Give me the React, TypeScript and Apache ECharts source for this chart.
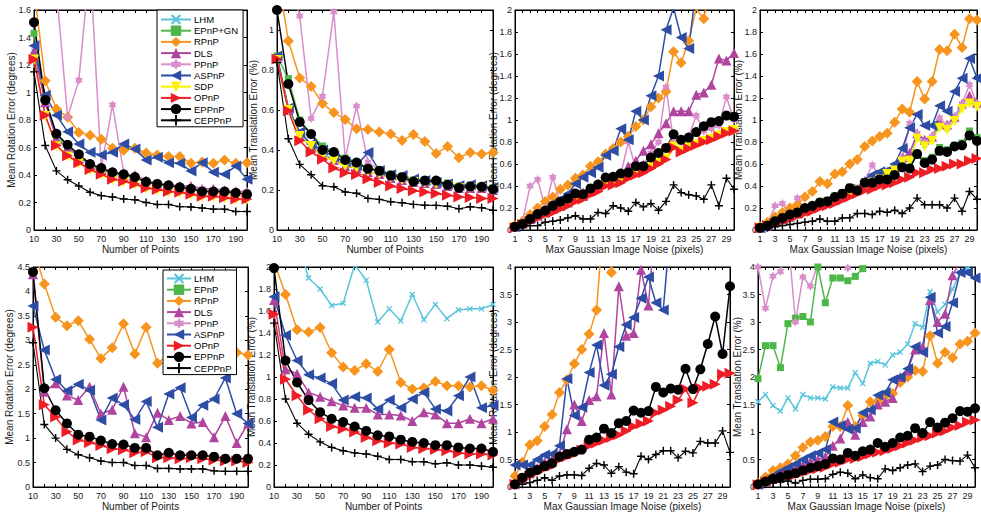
import React, { useEffect, useRef } from "react";
import * as echarts from "echarts";

// ---------- x values ----------
const X_POINTS = [10, 20, 30, 40, 50, 60, 70, 80, 90, 100, 110, 120, 130, 140, 150, 160, 170, 180, 190, 200];
const X_NOISE = [1, 2, 3, 4, 5, 6, 7, 8, 9, 10, 11, 12, 13, 14, 15, 16, 17, 18, 19, 20, 21, 22, 23, 24, 25, 26, 27, 28, 29, 30];

// ---------- Panel 1: rotation error vs number of points (top) ----------
const P1_LHM = [1.30, 0.93, 0.67, 0.60, 0.53, 0.47, 0.43, 0.41, 0.39, 0.38, 0.35, 0.33, 0.32, 0.31, 0.30, 0.28, 0.28, 0.27, 0.27, 0.26];
const P1_EPNPGN = [1.43, 0.95, 0.69, 0.61, 0.54, 0.48, 0.44, 0.41, 0.40, 0.38, 0.35, 0.335, 0.32, 0.31, 0.30, 0.28, 0.28, 0.275, 0.27, 0.26];
const P1_RPNP = [1.75, 1.085, 0.88, 0.82, 0.71, 0.69, 0.66, 0.595, 0.58, 0.595, 0.56, 0.545, 0.535, 0.535, 0.485, 0.495, 0.485, 0.51, 0.485, 0.49];
const P1_DLS = [1.30, 0.93, 0.66, 0.60, 0.54, 0.48, 0.44, 0.42, 0.40, 0.40, 0.36, 0.34, 0.33, 0.32, 0.32, 0.30, 0.30, 0.29, 0.28, 0.28];
const P1_PPNP = [3.0, 2.5, 1.75, 0.82, 1.09, 1.95, 0.45, 0.91, 0.42, 0.39, 0.36, 0.34, 0.33, 0.32, 0.31, 0.30, 0.29, 0.29, 0.28, 0.28];
const P1_ASPNP = [1.34, 0.98, 0.835, 0.715, 0.625, 0.565, 0.545, 0.565, 0.625, 0.59, 0.51, 0.53, 0.49, 0.485, 0.43, 0.49, 0.42, 0.405, 0.465, 0.37];
const P1_SDP = [1.24, 0.83, 0.61, 0.535, 0.485, 0.435, 0.40, 0.365, 0.35, 0.33, 0.30, 0.29, 0.275, 0.27, 0.255, 0.24, 0.24, 0.23, 0.22, 0.22];
const P1_OPNP = [1.24, 0.835, 0.615, 0.54, 0.49, 0.44, 0.405, 0.37, 0.355, 0.335, 0.305, 0.295, 0.28, 0.275, 0.26, 0.245, 0.245, 0.235, 0.225, 0.225];
const P1_EPPNP = [1.51, 0.945, 0.70, 0.62, 0.55, 0.48, 0.45, 0.42, 0.405, 0.385, 0.35, 0.335, 0.325, 0.31, 0.30, 0.28, 0.28, 0.28, 0.27, 0.26];
const P1_CEPPNP = [1.15, 0.615, 0.43, 0.365, 0.32, 0.275, 0.25, 0.24, 0.225, 0.22, 0.20, 0.185, 0.185, 0.17, 0.167, 0.16, 0.152, 0.152, 0.135, 0.135];

// ---------- Panel 2: translation error vs number of points (top) ----------
const P2_LHM = [0.86, 0.61, 0.48, 0.42, 0.38, 0.35, 0.32, 0.31, 0.29, 0.28, 0.26, 0.25, 0.24, 0.235, 0.23, 0.22, 0.21, 0.21, 0.21, 0.20];
const P2_EPNPGN = [0.87, 0.757, 0.55, 0.48, 0.42, 0.39, 0.36, 0.34, 0.31, 0.30, 0.28, 0.27, 0.25, 0.25, 0.245, 0.235, 0.22, 0.225, 0.22, 0.21];
const P2_RPNP = [1.3, 0.945, 0.76, 0.718, 0.633, 0.587, 0.553, 0.506, 0.502, 0.49, 0.48, 0.448, 0.477, 0.443, 0.383, 0.417, 0.361, 0.388, 0.38, 0.388];
const P2_DLS = [0.86, 0.60, 0.47, 0.42, 0.37, 0.35, 0.32, 0.31, 0.29, 0.28, 0.26, 0.25, 0.24, 0.235, 0.23, 0.22, 0.21, 0.21, 0.21, 0.20];
const P2_PPNP = [1.5, 1.3, 1.07, 0.558, 0.669, 1.09, 0.357, 0.62, 0.34, 0.30, 0.27, 0.26, 0.245, 0.24, 0.235, 0.225, 0.215, 0.215, 0.21, 0.205];
const P2_ASPNP = [0.87, 0.61, 0.49, 0.43, 0.40, 0.366, 0.34, 0.323, 0.388, 0.298, 0.276, 0.272, 0.255, 0.247, 0.238, 0.23, 0.221, 0.226, 0.221, 0.213];
const P2_SDP = [0.85, 0.60, 0.47, 0.42, 0.37, 0.345, 0.32, 0.31, 0.29, 0.28, 0.26, 0.25, 0.24, 0.235, 0.23, 0.22, 0.21, 0.21, 0.21, 0.20];
const P2_OPNP = [0.855, 0.596, 0.446, 0.39, 0.354, 0.31, 0.286, 0.277, 0.255, 0.238, 0.22, 0.208, 0.196, 0.19, 0.182, 0.174, 0.165, 0.162, 0.158, 0.157];
const P2_EPPNP = [1.10, 0.73, 0.54, 0.48, 0.40, 0.39, 0.35, 0.337, 0.306, 0.296, 0.272, 0.264, 0.242, 0.247, 0.247, 0.226, 0.211, 0.218, 0.216, 0.204];
const P2_CEPPNP = [0.837, 0.456, 0.328, 0.276, 0.221, 0.216, 0.19, 0.184, 0.158, 0.153, 0.141, 0.136, 0.128, 0.124, 0.123, 0.119, 0.106, 0.116, 0.111, 0.099];

// ---------- Panel 3: rotation error vs noise (top) ----------
const P3_LHM = [0.03, 0.06, 0.09, 0.12, 0.15, 0.18, 0.21, 0.24, 0.28, 0.30, 0.34, 0.37, 0.42, 0.43, 0.45, 0.49, 0.52, 0.54, 0.58, 0.62, 0.66, 0.77, 0.73, 0.76, 0.79, 0.82, 0.84, 0.87, 0.90, 0.92];
const P3_EPNPGN = [0.03, 0.055, 0.10, 0.14, 0.17, 0.215, 0.25, 0.28, 0.33, 0.32, 0.37, 0.41, 0.47, 0.48, 0.51, 0.52, 0.575, 0.575, 0.655, 0.695, 0.74, 0.865, 0.815, 0.835, 0.885, 0.94, 0.975, 0.985, 1.035, 1.025];
const P3_RPNP = [0.04, 0.08, 0.14, 0.20, 0.26, 0.30, 0.37, 0.41, 0.47, 0.50, 0.58, 0.62, 0.69, 0.74, 0.80, 0.85, 0.94, 1.00, 1.12, 1.20, 1.26, 1.62, 1.52, 1.72, 2.01, 1.92, 2.3];
const P3_DLS = [0.03, 0.06, 0.10, 0.13, 0.16, 0.19, 0.22, 0.25, 0.29, 0.31, 0.36, 0.39, 0.44, 0.46, 0.48, 0.58, 0.63, 0.72, 0.78, 0.88, 0.97, 1.08, 1.08, 1.08, 1.23, 1.25, 1.32, 1.56, 1.54, 1.61];
const P3_PPNP = [0.03, 0.08, 0.40, 0.46, 0.20, 0.48, 0.25, 0.28, 0.32, 0.35, 0.38, 0.42, 0.46, 0.48, 0.50, 0.80, 0.56, 0.60, 0.70, 0.80, 1.30, 0.80, 0.80, 0.85, 1.04, 0.90, 0.92, 0.95, 1.21, 1.00];
const P3_ASPNP = [0.03, 0.07, 0.11, 0.15, 0.19, 0.24, 0.28, 0.33, 0.42, 0.48, 0.52, 0.57, 0.68, 0.72, 0.92, 0.82, 1.08, 1.00, 1.22, 1.40, 1.82, 2.02, 1.75, 1.65, 2.2];
const P3_SDP = [0.025, 0.05, 0.085, 0.115, 0.145, 0.17, 0.2, 0.23, 0.27, 0.29, 0.33, 0.36, 0.41, 0.42, 0.44, 0.48, 0.51, 0.53, 0.57, 0.61, 0.65, 0.76, 0.72, 0.75, 0.78, 0.81, 0.83, 0.86, 0.89, 0.91];
const P3_OPNP = [0.02, 0.05, 0.08, 0.11, 0.14, 0.16, 0.19, 0.22, 0.26, 0.28, 0.32, 0.35, 0.40, 0.41, 0.43, 0.47, 0.50, 0.52, 0.56, 0.60, 0.64, 0.75, 0.71, 0.74, 0.77, 0.80, 0.82, 0.85, 0.88, 0.90];
const P3_EPPNP = [0.03, 0.055, 0.10, 0.145, 0.175, 0.22, 0.257, 0.287, 0.332, 0.326, 0.378, 0.414, 0.477, 0.483, 0.514, 0.523, 0.58, 0.58, 0.659, 0.70, 0.746, 0.87, 0.82, 0.84, 0.89, 0.943, 0.98, 0.99, 1.04, 1.03];
const P3_CEPPNP = [0.02, 0.03, 0.04, 0.04, 0.07, 0.08, 0.09, 0.11, 0.13, 0.10, 0.10, 0.16, 0.15, 0.22, 0.20, 0.17, 0.25, 0.21, 0.24, 0.18, 0.26, 0.41, 0.34, 0.32, 0.31, 0.28, 0.41, 0.22, 0.47, 0.37];

// ---------- Panel 4: translation error vs noise (top) ----------
const P4_LHM = [0.02, 0.04, 0.07, 0.09, 0.12, 0.15, 0.18, 0.2, 0.23, 0.25, 0.28, 0.3, 0.33, 0.36, 0.42, 0.44, 0.47, 0.52, 0.55, 0.64, 0.64, 0.85, 0.77, 0.82, 0.95, 0.92, 1.0, 1.12, 1.17, 1.13];
const P4_EPNPGN = [0.02, 0.04, 0.08, 0.11, 0.14, 0.16, 0.2, 0.22, 0.26, 0.27, 0.31, 0.34, 0.39, 0.37, 0.44, 0.44, 0.47, 0.47, 0.51, 0.58, 0.57, 0.7, 0.63, 0.66, 0.75, 0.73, 0.77, 0.79, 0.9, 0.84];
const P4_RPNP = [0.03, 0.07, 0.12, 0.16, 0.20, 0.23, 0.30, 0.35, 0.44, 0.42, 0.51, 0.53, 0.60, 0.64, 0.76, 0.81, 0.85, 0.88, 0.98, 1.10, 1.07, 1.35, 1.19, 1.35, 1.64, 1.63, 1.78, 1.66, 1.92, 1.91];
const P4_DLS = [0.02, 0.04, 0.07, 0.10, 0.12, 0.15, 0.18, 0.21, 0.23, 0.26, 0.28, 0.31, 0.34, 0.37, 0.43, 0.45, 0.48, 0.53, 0.57, 0.66, 0.70, 0.88, 0.82, 0.85, 0.98, 0.96, 1.03, 1.15, 1.22, 1.16];
const P4_PPNP = [0.03, 0.05, 0.22, 0.24, 0.13, 0.29, 0.18, 0.21, 0.24, 0.27, 0.29, 0.31, 0.35, 0.38, 0.45, 0.59, 0.48, 0.50, 0.55, 0.65, 0.97, 0.88, 0.80, 0.85, 1.02, 0.95, 1.03, 1.15, 1.32, 1.15];
const P4_ASPNP = [0.02, 0.05, 0.08, 0.11, 0.14, 0.16, 0.19, 0.22, 0.25, 0.27, 0.3, 0.33, 0.37, 0.38, 0.45, 0.50, 0.53, 0.54, 0.60, 0.74, 0.93, 1.05, 0.95, 0.95, 1.13, 1.08, 1.26, 1.38, 1.56, 1.38];
const P4_SDP = [0.02, 0.04, 0.07, 0.09, 0.12, 0.14, 0.17, 0.2, 0.22, 0.25, 0.27, 0.3, 0.33, 0.36, 0.41, 0.43, 0.46, 0.51, 0.54, 0.62, 0.63, 0.83, 0.76, 0.81, 0.93, 0.91, 0.99, 1.1, 1.15, 1.12];
const P4_OPNP = [0.02, 0.04, 0.06, 0.08, 0.10, 0.13, 0.15, 0.17, 0.20, 0.22, 0.24, 0.27, 0.30, 0.33, 0.36, 0.37, 0.40, 0.41, 0.43, 0.46, 0.48, 0.52, 0.52, 0.55, 0.56, 0.58, 0.60, 0.60, 0.63, 0.65];
const P4_EPPNP = [0.02, 0.04, 0.08, 0.11, 0.14, 0.16, 0.20, 0.22, 0.25, 0.26, 0.30, 0.33, 0.38, 0.36, 0.43, 0.43, 0.46, 0.46, 0.50, 0.57, 0.56, 0.69, 0.61, 0.64, 0.72, 0.71, 0.76, 0.77, 0.86, 0.81];
const P4_CEPPNP = [0.02, 0.02, 0.03, 0.04, 0.05, 0.06, 0.07, 0.08, 0.10, 0.08, 0.08, 0.11, 0.11, 0.15, 0.15, 0.14, 0.17, 0.16, 0.18, 0.15, 0.20, 0.29, 0.23, 0.23, 0.23, 0.20, 0.29, 0.17, 0.35, 0.28];

// ---------- Panel 5: rotation error vs number of points (bottom) ----------
const P5_RPNP = [4.9, 4.15, 3.47, 3.3, 3.4, 3.02, 2.63, 2.85, 3.34, 2.72, 3.27, 2.53, 2.72, 2.9, 2.7, 3.0, 2.8, 2.9, 2.75, 2.7];
const P5_DLS = [4.35, 1.95, 2.12, 1.87, 1.78, 2.05, 1.5, 1.58, 2.05, 1.1, 1.02, 1.52, 1.37, 1.45, 1.3, 1.33, 1.02, 1.45, 0.9, 1.3];
const P5_ASPNP = [3.7, 2.8, 2.2, 1.97, 2.1, 1.98, 1.37, 1.82, 1.68, 1.38, 1.75, 1.22, 1.9, 2.03, 1.42, 1.67, 1.8, 2.23, 1.5, 1.3];
const P5_OPNP = [3.27, 1.68, 1.43, 1.13, 0.96, 0.91, 0.85, 0.78, 0.76, 0.7, 0.72, 0.6, 0.6, 0.58, 0.6, 0.58, 0.55, 0.53, 0.53, 0.5];
const P5_EPPNP = [4.4, 2.02, 1.57, 1.3, 1.07, 1.03, 0.95, 0.88, 0.87, 0.8, 0.8, 0.65, 0.7, 0.65, 0.65, 0.65, 0.62, 0.58, 0.58, 0.58];
const P5_CEPPNP = [2.95, 1.28, 1.0, 0.77, 0.66, 0.6, 0.53, 0.5, 0.5, 0.44, 0.44, 0.38, 0.38, 0.37, 0.37, 0.37, 0.33, 0.32, 0.32, 0.32];

// ---------- Panel 6: translation error vs number of points (bottom) ----------
const P6_LHM = [3.0, 2.6, 2.25, 1.9, 1.8, 1.65, 1.67, 2.02, 1.88, 1.5, 1.62, 1.51, 1.75, 1.52, 1.66, 1.53, 1.61, 1.62, 1.62, 1.66];
const P6_RPNP = [2.05, 1.75, 1.43, 1.41, 1.45, 1.22, 1.09, 1.06, 1.12, 1.05, 1.25, 0.95, 0.89, 0.9, 0.96, 0.92, 0.92, 0.91, 0.92, 0.88];
const P6_DLS = [1.7, 1.07, 1.03, 0.86, 0.82, 0.78, 0.74, 0.72, 0.72, 0.66, 0.66, 0.65, 0.6, 0.68, 0.66, 0.58, 0.58, 0.62, 0.58, 0.62];
const P6_ASPNP = [1.73, 1.38, 1.15, 1.02, 0.99, 0.94, 0.79, 0.82, 0.81, 0.71, 0.79, 0.72, 0.8, 0.86, 0.71, 0.69, 0.83, 1.0, 0.72, 0.74];
const P6_OPNP = [1.57, 0.98, 0.83, 0.7, 0.62, 0.55, 0.53, 0.5, 0.45, 0.42, 0.4, 0.39, 0.36, 0.35, 0.34, 0.33, 0.31, 0.3, 0.3, 0.29];
const P6_EPPNP = [1.99, 1.15, 0.95, 0.79, 0.68, 0.62, 0.59, 0.55, 0.51, 0.47, 0.46, 0.43, 0.41, 0.4, 0.38, 0.38, 0.36, 0.35, 0.35, 0.32];
const P6_CEPPNP = [1.49, 0.8, 0.58, 0.48, 0.41, 0.36, 0.33, 0.31, 0.3, 0.28, 0.25, 0.25, 0.23, 0.23, 0.21, 0.22, 0.2, 0.2, 0.19, 0.18];

// ---------- Panel 7: rotation error vs noise (bottom) ----------
const P7_RPNP = [0.2, 0.45, 0.77, 0.84, 1.1, 1.32, 1.72, 1.95, 2.24, 2.5, 2.78, 3.22, 5.0, 3.9, 5.0];
const P7_DLS = [0.05, 0.15, 0.25, 0.35, 0.45, 0.5, 0.6, 1.05, 1.5, 1.2, 1.58, 1.65, 2.8, 1.68, 3.65, 2.75, 2.8, 3.95, 3.3, 5.0];
const P7_ASPNP = [0.4, 0.4, 0.4, 0.5, 0.58, 0.6, 0.75, 1.97, 1.3, 1.45, 2.08, 2.58, 1.85, 2.05, 2.55, 2.95, 3.08, 3.43, 3.82, 3.35, 3.22, 4.8];
const P7_OPNP = [0.05, 0.12, 0.2, 0.27, 0.33, 0.38, 0.5, 0.55, 0.6, 0.67, 0.75, 0.8, 0.85, 0.9, 0.95, 1.02, 1.1, 1.15, 1.2, 1.35, 1.4, 1.47, 1.58, 1.78, 1.53, 1.8, 1.83, 1.87, 2.05, 2.07];
const P7_EPPNP = [0.05, 0.17, 0.26, 0.31, 0.38, 0.43, 0.55, 0.6, 0.64, 0.68, 0.86, 0.9, 1.06, 0.98, 1.16, 1.2, 1.39, 1.35, 1.38, 1.82, 1.72, 1.79, 1.77, 2.15, 1.78, 2.14, 2.6, 3.1, 2.42, 3.65];
const P7_CEPPNP = [0.03, 0.05, 0.08, 0.12, 0.17, 0.12, 0.2, 0.22, 0.22, 0.21, 0.34, 0.43, 0.4, 0.25, 0.37, 0.27, 0.24, 0.56, 0.5, 0.59, 0.66, 0.66, 0.53, 0.65, 0.62, 0.83, 0.8, 0.8, 1.02, 0.63];

// ---------- Panel 8: translation error vs noise (bottom) ----------
const P8_LHM = [1.55, 1.68, 1.48, 1.38, 1.62, 1.42, 1.68, 1.62, 1.62, 1.6, 1.82, 1.8, 1.8, 2.08, 1.88, 2.25, 2.28, 2.22, 2.4, 2.45, 2.6, 2.97, 2.9, 3.55, 3.18, 3.32, 3.6, 3.9, 3.97, 4.3];
const P8_EPNP = [1.97, 2.57, 2.57, 2.17, 2.97, 3.07, 3.1, 3.0, 4.0, 3.35, 3.8, 3.8, 3.75, 3.83, 3.97, 4.3];
const P8_RPNP = [0.07, 0.18, 0.3, 0.35, 0.42, 0.57, 0.72, 0.82, 0.85, 0.92, 1.1, 1.1, 1.48, 1.1, 1.3, 1.55, 1.55, 1.65, 1.7, 1.9, 2.0, 2.12, 2.1, 2.75, 2.25, 2.45, 2.35, 2.6, 2.65, 2.8];
const P8_DLS = [0.05, 0.1, 0.16, 0.22, 0.28, 0.35, 0.4, 0.46, 0.5, 0.55, 0.75, 0.88, 1.18, 0.95, 1.18, 1.28, 1.5, 1.55, 1.62, 2.0, 2.12, 2.5, 2.55, 3.4, 3.0, 3.15, 3.85, 4.1, 4.3, 4.3];
const P8_PPNP = [4.0, 3.25, 3.83, 3.92, 4.6, 3.0, 3.82, 3.65, 4.05, 4.6, 4.6, 4.4, 3.98, 4.6];
const P8_ASPNP = [0.05, 0.12, 0.2, 0.28, 0.35, 0.42, 0.5, 0.57, 0.62, 0.68, 1.18, 1.12, 1.05, 1.07, 1.35, 1.4, 1.67, 1.72, 1.95, 2.0, 2.15, 2.55, 2.45, 3.45, 2.8, 2.92, 3.35, 3.9, 3.9, 3.8];
const P8_OPNP = [0.04, 0.08, 0.12, 0.15, 0.2, 0.22, 0.26, 0.3, 0.33, 0.36, 0.42, 0.45, 0.5, 0.52, 0.55, 0.6, 0.63, 0.66, 0.7, 0.75, 0.8, 0.85, 0.9, 0.93, 0.98, 1.02, 1.08, 1.12, 1.18, 1.22];
const P8_EPPNP = [0.05, 0.1, 0.15, 0.18, 0.22, 0.25, 0.3, 0.35, 0.38, 0.42, 0.52, 0.5, 0.62, 0.57, 0.65, 0.68, 0.8, 0.73, 0.8, 0.9, 0.93, 1.07, 0.98, 1.18, 1.08, 1.17, 1.25, 1.38, 1.37, 1.43];
const P8_CEPPNP = [0.03, 0.05, 0.07, 0.09, 0.11, 0.07, 0.12, 0.14, 0.14, 0.15, 0.23, 0.27, 0.25, 0.15, 0.22, 0.17, 0.15, 0.33, 0.3, 0.35, 0.4, 0.42, 0.28, 0.38, 0.4, 0.5, 0.48, 0.47, 0.58, 0.35];

// ---------- Legends ----------
const LEGEND_TOP = ["LHM", "EPnP+GN", "RPnP", "DLS", "PPnP", "ASPnP", "SDP", "OPnP", "EPPnP", "CEPPnP"];
const LEGEND_BOTTOM = ["LHM", "EPnP", "RPnP", "DLS", "PPnP", "ASPnP", "OPnP", "EPPnP", "CEPPnP"];

const Y_ROT = "Mean Rotation Error (degrees)";
const Y_TRANS = "Mean Translation Error (%)";
const X_PTS_NAME = "Number of Points";
const X_NOISE_NAME = "Max Gaussian Image Noise (pixels)";

// ---------- marker shapes ----------
const X_MARK = "path://M0,1.5L1.5,0L5,3.5L8.5,0L10,1.5L6.5,5L10,8.5L8.5,10L5,6.5L1.5,10L0,8.5L3.5,5Z";
const PLUS_MARK = "path://M4.1,0H5.9V4.1H10V5.9H5.9V10H4.1V5.9H0V4.1H4.1Z";
const HEX_MARK = (() => {
  let d = "";
  for (let k = 0; k < 12; k++) {
    const a = ((-90 + k * 30) * Math.PI) / 180;
    const r = k % 2 === 0 ? 10 : 5.8;
    const x = (10 + r * Math.cos(a)).toFixed(2);
    const y = (10 + r * Math.sin(a)).toFixed(2);
    d += (k === 0 ? "M" : "L") + x + "," + y;
  }
  return "path://" + d + "Z";
})();

type Sty = { color: string; symbol: string; size: number; rotate?: number; width?: number };
const STYLES: Record<string, Sty> = {
  LHM: { color: "#56C5DA", symbol: X_MARK, size: 6 },
  "EPnP+GN": { color: "#4DB848", symbol: "rect", size: 7 },
  EPnP: { color: "#4DB848", symbol: "rect", size: 7 },
  RPnP: { color: "#F7941D", symbol: "diamond", size: 11 },
  DLS: { color: "#B0449E", symbol: "triangle", size: 10 },
  PPnP: { color: "#D98DCA", symbol: HEX_MARK, size: 9 },
  ASPnP: { color: "#2D4DA5", symbol: "triangle", size: 11, rotate: 90 },
  SDP: { color: "#FFF200", symbol: "triangle", size: 10, rotate: 180 },
  OPnP: { color: "#EE1C25", symbol: "triangle", size: 11, rotate: -90 },
  EPPnP: { color: "#000000", symbol: "circle", size: 10 },
  CEPPnP: { color: "#000000", symbol: PLUS_MARK, size: 8, width: 1.1 },
};

type Panel = {
  grid: { left: number; top: number; width: number; height: number };
  xs: number[];
  xName: string;
  yName: string;
  yMax: number;
  yInt: number;
  yShowMax: boolean;
  yGap: number;
  series: [string, number[]][];
};

const TOP_H = 220;
const BOT_H = 220;

const PANELS: Panel[] = [
  {
    grid: { left: 34, top: 10, width: 213, height: TOP_H }, xs: X_POINTS, xName: X_PTS_NAME, yName: Y_ROT,
    yMax: 1.6, yInt: 0.2, yShowMax: true, yGap: 18,
    series: [["LHM", P1_LHM], ["EPnP+GN", P1_EPNPGN], ["RPnP", P1_RPNP], ["DLS", P1_DLS], ["PPnP", P1_PPNP], ["ASPnP", P1_ASPNP], ["SDP", P1_SDP], ["OPnP", P1_OPNP], ["EPPnP", P1_EPPNP], ["CEPPnP", P1_CEPPNP]],
  },
  {
    grid: { left: 277, top: 10, width: 216, height: TOP_H }, xs: X_POINTS, xName: X_PTS_NAME, yName: Y_TRANS,
    yMax: 1.1, yInt: 0.2, yShowMax: false, yGap: 18.5,
    series: [["LHM", P2_LHM], ["EPnP+GN", P2_EPNPGN], ["RPnP", P2_RPNP], ["DLS", P2_DLS], ["PPnP", P2_PPNP], ["ASPnP", P2_ASPNP], ["SDP", P2_SDP], ["OPnP", P2_OPNP], ["EPPnP", P2_EPPNP], ["CEPPnP", P2_CEPPNP]],
  },
  {
    grid: { left: 515, top: 10, width: 219, height: TOP_H }, xs: X_NOISE, xName: X_NOISE_NAME, yName: Y_ROT,
    yMax: 2, yInt: 0.2, yShowMax: true, yGap: 17,
    series: [["LHM", P3_LHM], ["EPnP+GN", P3_EPNPGN], ["RPnP", P3_RPNP], ["DLS", P3_DLS], ["PPnP", P3_PPNP], ["ASPnP", P3_ASPNP], ["SDP", P3_SDP], ["OPnP", P3_OPNP], ["EPPnP", P3_EPPNP], ["CEPPnP", P3_CEPPNP]],
  },
  {
    grid: { left: 760, top: 10, width: 217, height: TOP_H }, xs: X_NOISE, xName: X_NOISE_NAME, yName: Y_TRANS,
    yMax: 2, yInt: 0.2, yShowMax: true, yGap: 17,
    series: [["LHM", P4_LHM], ["EPnP+GN", P4_EPNPGN], ["RPnP", P4_RPNP], ["DLS", P4_DLS], ["PPnP", P4_PPNP], ["ASPnP", P4_ASPNP], ["SDP", P4_SDP], ["OPnP", P4_OPNP], ["EPPnP", P4_EPPNP], ["CEPPnP", P4_CEPPNP]],
  },
  {
    grid: { left: 33, top: 267, width: 215, height: BOT_H }, xs: X_POINTS, xName: X_PTS_NAME, yName: Y_ROT,
    yMax: 4.5, yInt: 0.5, yShowMax: true, yGap: 19,
    series: [["RPnP", P5_RPNP], ["DLS", P5_DLS], ["ASPnP", P5_ASPNP], ["OPnP", P5_OPNP], ["EPPnP", P5_EPPNP], ["CEPPnP", P5_CEPPNP]],
  },
  {
    grid: { left: 274, top: 267, width: 219, height: BOT_H }, xs: X_POINTS, xName: X_PTS_NAME, yName: Y_TRANS,
    yMax: 2, yInt: 0.2, yShowMax: true, yGap: 18,
    series: [["LHM", P6_LHM], ["RPnP", P6_RPNP], ["DLS", P6_DLS], ["ASPnP", P6_ASPNP], ["OPnP", P6_OPNP], ["EPPnP", P6_EPPNP], ["CEPPnP", P6_CEPPNP]],
  },
  {
    grid: { left: 515, top: 267, width: 215, height: BOT_H }, xs: X_NOISE, xName: X_NOISE_NAME, yName: Y_ROT,
    yMax: 4, yInt: 0.5, yShowMax: true, yGap: 17,
    series: [["RPnP", P7_RPNP], ["DLS", P7_DLS], ["ASPnP", P7_ASPNP], ["OPnP", P7_OPNP], ["EPPnP", P7_EPPNP], ["CEPPnP", P7_CEPPNP]],
  },
  {
    grid: { left: 758, top: 267, width: 217, height: BOT_H }, xs: X_NOISE, xName: X_NOISE_NAME, yName: Y_TRANS,
    yMax: 4, yInt: 0.5, yShowMax: true, yGap: 15.5,
    series: [["LHM", P8_LHM], ["EPnP", P8_EPNP], ["RPnP", P8_RPNP], ["DLS", P8_DLS], ["PPnP", P8_PPNP], ["ASPnP", P8_ASPNP], ["OPnP", P8_OPNP], ["EPPnP", P8_EPPNP], ["CEPPnP", P8_CEPPNP]],
  },
];

const FONT = "'Liberation Sans', Arial, Helvetica, sans-serif";
const TXT = "#1a1a1a";
const TICK_FS = 9;

function buildOption() {
  const grids: any[] = [];
  const xAxes: any[] = [];
  const yAxes: any[] = [];
  const mirrorX: any[] = [];
  const mirrorY: any[] = [];
  const series: any[] = [];
  PANELS.forEach((p, i) => {
    grids.push({ ...p.grid, show: true, borderColor: "#000", borderWidth: 1, backgroundColor: "#fff", containLabel: false });
    const isPts = p.xs === X_POINTS;
    const xMin = isPts ? 10 : 1;
    const xMax = isPts ? 200 : 30;
    const xStep = isPts ? 10 : 1;
    const tick = { show: true, inside: true, length: 3, lineStyle: { color: "#000", width: 1 } };
    const line = { show: true, onZero: false, lineStyle: { color: "#000", width: 1 } };
    xAxes.push({
      type: "value", gridIndex: i, position: "bottom",
      min: xMin, max: xMax, interval: xStep,
      name: p.xName, nameLocation: "middle", nameGap: 14, nameMoveOverlap: false,
      nameTextStyle: { fontSize: 10, color: TXT, fontFamily: FONT },
      axisLine: line,
      axisTick: tick,
      axisLabel: {
        fontSize: TICK_FS, lineHeight: 9, color: TXT, fontFamily: FONT, margin: 4.5, showMaxLabel: false,
        formatter: (v: number) => (Math.round((v - xMin) / xStep) % 2 === 0 && v < xMax ? String(v) : ""),
      },
      splitLine: { show: false },
    });
    mirrorX.push({
      type: "value", gridIndex: i, position: "top", min: xMin, max: xMax, interval: xStep,
      axisLine: line, axisTick: tick, axisLabel: { show: false }, splitLine: { show: false },
    });
    yAxes.push({
      type: "value", gridIndex: i, position: "left", min: 0, max: p.yMax, interval: p.yInt,
      name: p.yName, nameLocation: "middle", nameGap: p.yGap, nameMoveOverlap: false,
      nameTextStyle: { fontSize: 10, color: TXT, fontFamily: FONT },
      axisLine: line,
      axisTick: tick,
      axisLabel: { fontSize: TICK_FS, lineHeight: 9, color: TXT, fontFamily: FONT, margin: 3, showMaxLabel: p.yShowMax },
      splitLine: { show: false },
    });
    mirrorY.push({
      type: "value", gridIndex: i, position: "right", min: 0, max: p.yMax, interval: p.yInt,
      axisLine: line, axisTick: tick, axisLabel: { show: false }, splitLine: { show: false },
    });
    p.series.forEach(([name, ys]) => {
      const st = STYLES[name];
      series.push({
        type: "line", name, xAxisIndex: i, yAxisIndex: i,
        data: ys.map((v, k) => [p.xs[k], v]),
        symbol: st.symbol, symbolSize: st.size, symbolRotate: st.rotate || 0, symbolKeepAspect: true,
        showAllSymbol: true, clip: true,
        lineStyle: { color: st.color, width: st.width || 1.5 },
        itemStyle: { color: st.color, borderColor: st.color, borderWidth: 0 },
        emphasis: { disabled: true },
      });
    });
  });
  const legendBase = {
    orient: "vertical", selectedMode: false, backgroundColor: "#fff", borderColor: "#000", borderWidth: 1,
    itemGap: -1.8, itemHeight: 13, z: 20,
    textStyle: { fontSize: 9.5, lineHeight: 13, height: 13, verticalAlign: "middle", color: "#000", fontFamily: FONT, padding: [0, 0, 0, -2] },
  };
  return {
    animation: false,
    backgroundColor: "#fff",
    textStyle: { fontFamily: FONT },
    grid: grids,
    xAxis: [...xAxes, ...mirrorX],
    yAxis: [...yAxes, ...mirrorY],
    legend: [
      { ...legendBase, left: 157, top: 10, itemWidth: 30, padding: [3, 5, 0, 3], data: LEGEND_TOP },
      { ...legendBase, left: 163, top: 270, itemWidth: 24, padding: [2, 5, 0, 3], data: LEGEND_BOTTOM },
    ],
    series,
  };
}

export default function App() {
  const ref = useRef<HTMLDivElement>(null);
  useEffect(() => {
    if (!ref.current) return;
    const chart = echarts.init(ref.current, null, { renderer: "svg" });
    chart.setOption(buildOption() as any);
    return () => chart.dispose();
  }, []);
  return <div ref={ref} style={{ position: "absolute", left: 0, top: 0, width: 981, height: 514 }} />;
}
